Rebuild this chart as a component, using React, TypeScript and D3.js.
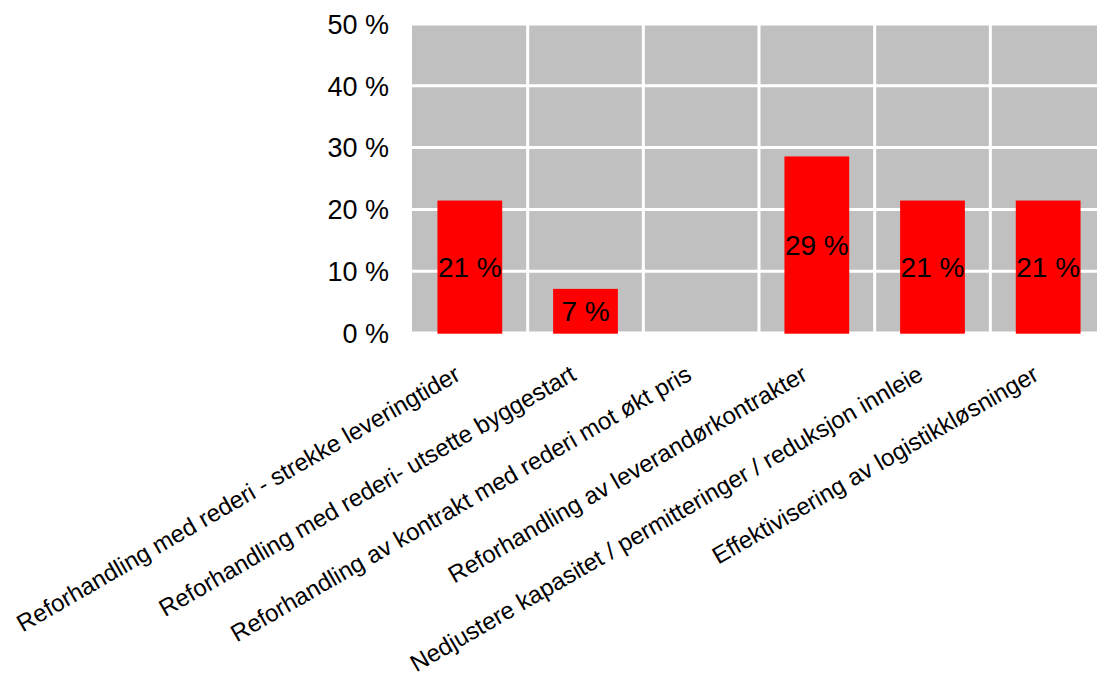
import React from "react";
import * as d3 from "d3";

const categories = [
  "Reforhandling med rederi - strekke leveringtider",
  "Reforhandling med rederi- utsette byggestart",
  "Reforhandling av kontrakt med rederi mot økt pris",
  "Reforhandling av leverandørkontrakter",
  "Nedjustere kapasitet / permitteringer / reduksjon innleie",
  "Effektivisering av logistikkløsninger",
];
const values = [21.43, 7.14, 0, 28.57, 21.43, 21.43];
const valueLabels = ["21 %", "7 %", "", "29 %", "21 %", "21 %"];
const yTicks = [0, 10, 20, 30, 40, 50];

const W = 1097;
const H = 680;
const plotLeft = 412;
const plotRight = 1106;
const plotTop = 24;
const plotBottom = 333;
const font = "Liberation Sans, Arial, sans-serif";

export default function App() {
  const x = d3
    .scaleBand<string>()
    .domain(categories)
    .range([plotLeft, plotRight])
    .paddingInner(0.44)
    .paddingOuter(0.22);
  const y = d3.scaleLinear().domain([0, 50]).range([plotBottom, plotTop]);
  const step = x.step();
  const bw = x.bandwidth();
  const boundaries = d3.range(1, categories.length).map((i) => plotLeft + i * step);

  return (
    <svg
      width={W}
      height={H}
      style={{ position: "absolute", left: 0, top: 0, background: "#fff" }}
      fontFamily={font}
    >
      <rect x={plotLeft} y={plotTop} width={plotRight - plotLeft} height={plotBottom - plotTop} fill="#c0c0c0" />
      {yTicks.map((t) => (
        <line key={"h" + t} x1={plotLeft} x2={plotRight} y1={y(t)} y2={y(t)} stroke="#fff" strokeWidth={3} />
      ))}
      {boundaries.map((b, i) => (
        <line key={"v" + i} x1={b} x2={b} y1={plotTop} y2={plotBottom} stroke="#fff" strokeWidth={3} />
      ))}
      {categories.map((c, i) =>
        values[i] > 0 ? (
          <rect key={"b" + i} x={x(c)} y={y(values[i])} width={bw} height={y(0) - y(values[i]) + 0.7} fill="#ff0000" />
        ) : null
      )}
      {categories.map((c, i) =>
        valueLabels[i] ? (
          <text
            key={"l" + i}
            x={(x(c) as number) + bw / 2}
            y={(y(values[i]) + y(0)) / 2}
            dy="0.36em"
            textAnchor="middle"
            fontSize={28}
            fill="#000"
          >
            {valueLabels[i]}
          </text>
        ) : null
      )}
      {yTicks.map((t) => (
        <text key={"t" + t} x={389} y={y(t)} dy="0.36em" textAnchor="end" fontSize={27} fill="#000">
          {t} %
        </text>
      ))}
      {categories.map((c, i) => {
        const cx = (x(c) as number) + bw / 2 - 8;
        const cy = plotBottom + 46;
        return (
          <text
            key={"x" + i}
            transform={`translate(${cx},${cy}) rotate(-30)`}
            textAnchor="end"
            fontSize={24}
            fill="#000"
          >
            {c}
          </text>
        );
      })}
    </svg>
  );
}
